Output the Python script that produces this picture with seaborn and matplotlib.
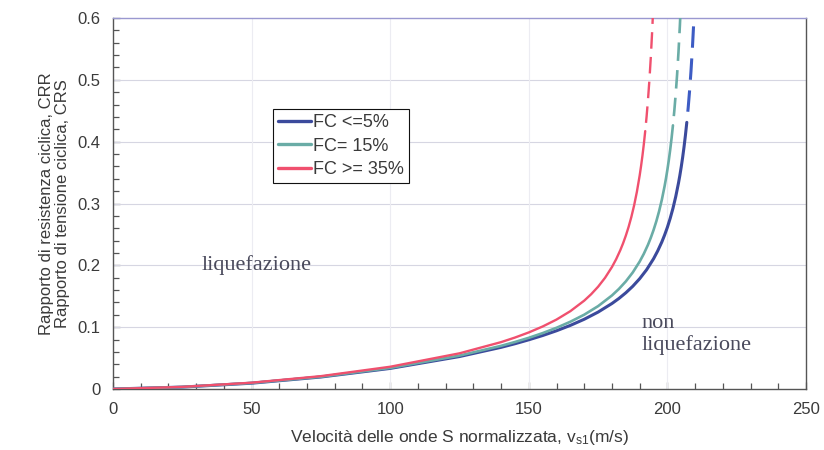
import numpy as np
import pandas as pd
import matplotlib
matplotlib.use("Agg")
import matplotlib.pyplot as plt
import seaborn as sns
from matplotlib.lines import Line2D
from matplotlib.ticker import MultipleLocator

# ---- data ----
labels = ["FC <=5%", "FC= 15%", "FC >= 35%"]

vs_fc5 = [0, 25, 50, 75, 100, 125, 140, 145, 150, 155, 160, 165, 170, 175, 180, 182.5, 185, 187.5, 190,
          192.5, 195, 196.5, 198, 199, 200, 201, 202, 203, 204, 204.5, 205, 205.5, 206, 206.5, 207]
crr_fc5 = [0, 0.0031, 0.0094, 0.0194, 0.0333, 0.0525, 0.0674, 0.0732, 0.0796, 0.0865, 0.0942, 0.1029,
           0.1128, 0.1244, 0.1383, 0.1464, 0.1556, 0.1661, 0.1784, 0.1929, 0.2106, 0.2233, 0.2379,
           0.2491, 0.2616, 0.2759, 0.2921, 0.3110, 0.3331, 0.3456, 0.3594, 0.3746, 0.3914, 0.4102, 0.4312]
vs_fc5_d = [207, 207.5, 208, 208.5, 209, 209.5, 209.8]
crr_fc5_d = [0.4312, 0.4550, 0.4822, 0.5134, 0.5497, 0.5926, 0.6223]

vs_fc15 = [0, 25, 50, 75, 100, 125, 140, 145, 150, 155, 160, 165, 170, 175, 180, 182.5, 185, 187.5, 190,
           191.5, 193, 194, 195, 196, 197, 198, 199, 199.5, 200, 200.5, 201, 201.5, 202]
crr_fc15 = [0, 0.0032, 0.0097, 0.0198, 0.0341, 0.0540, 0.0698, 0.0760, 0.0828, 0.0904, 0.0990, 0.1088,
            0.1202, 0.1340, 0.1513, 0.1618, 0.1740, 0.1885, 0.2061, 0.2187, 0.2333, 0.2445, 0.2570,
            0.2712, 0.2874, 0.3062, 0.3283, 0.3409, 0.3547, 0.3698, 0.3867, 0.4054, 0.4264]
vs_fc15_d = [202, 202.5, 203, 203.5, 204, 204.5, 204.8]
crr_fc15_d = [0.4264, 0.4502, 0.4773, 0.5085, 0.5449, 0.5878, 0.6174]

vs_fc35 = [0, 25, 50, 75, 100, 125, 140, 145, 150, 155, 160, 165, 170, 172.5, 175, 177.5, 180, 181.5,
           183, 184, 185, 186, 187, 188, 189, 190, 190.5, 191, 191.5, 192]
crr_fc35 = [0, 0.0034, 0.0102, 0.0208, 0.0360, 0.0577, 0.0758, 0.0832, 0.0915, 0.1011, 0.1123, 0.1259,
            0.1429, 0.1533, 0.1654, 0.1798, 0.1973, 0.2098, 0.2244, 0.2355, 0.2480, 0.2621, 0.2783,
            0.2971, 0.3191, 0.3454, 0.3606, 0.3774, 0.3961, 0.4171]
vs_fc35_d = [192, 192.5, 193, 193.5, 194, 194.5, 194.8]
crr_fc35_d = [0.4171, 0.4409, 0.4679, 0.4991, 0.5355, 0.5783, 0.6079]

x_ticks = [0, 50, 100, 150, 200, 250]
y_ticks = [0, 0.1, 0.2, 0.3, 0.4, 0.5, 0.6]
y_ticklabels = ["0", "0.1", "0.2", "0.3", "0.4", "0.5", "0.6"]

# ---- style ----
sns.set_theme(style="white")
plt.rcParams["font.family"] = ["Liberation Sans", "DejaVu Sans"]
plt.rcParams["mathtext.fontset"] = "custom"
plt.rcParams["mathtext.rm"] = "Liberation Sans"
plt.rcParams["mathtext.it"] = "Liberation Sans"

txt = "#3a3a3a"
c_blue, c_blue_d = "#3b4a9c", "#3d5cc4"
c_teal = "#6aaca6"
c_red = "#f0506e"

fig = plt.figure(figsize=(8.24, 4.5), dpi=100)
ax = fig.add_axes([113 / 824, 61 / 450, 693 / 824, 371 / 450])

series = [
    (vs_fc5, crr_fc5, vs_fc5_d, crr_fc5_d, c_blue, c_blue_d, 2.2),
    (vs_fc15, crr_fc15, vs_fc15_d, crr_fc15_d, c_teal, c_teal, 1.9),
    (vs_fc35, crr_fc35, vs_fc35_d, crr_fc35_d, c_red, c_red, 1.7),
]
for vs, crr, vsd, crrd, col, cold, lw in series:
    sns.lineplot(x=vs, y=crr, ax=ax, color=col, lw=lw, sort=False, estimator=None, zorder=3)
    sns.lineplot(x=vsd, y=crrd, ax=ax, color=cold, lw=lw, sort=False, estimator=None, zorder=3)
    ax.lines[-1].set_linestyle((7, (7, 3.5)))

ax.set_xlim(0, 250)
ax.set_ylim(0, 0.6)
ax.set_xticks(x_ticks)
ax.set_yticks(y_ticks)
ax.set_yticklabels(y_ticklabels)
ax.xaxis.set_minor_locator(MultipleLocator(10))
ax.yaxis.set_minor_locator(MultipleLocator(0.02))
ax.tick_params(axis="both", which="both", direction="in", colors="#555555",
               labelcolor=txt, labelsize=12, bottom=True, left=True, top=False, right=False)
ax.tick_params(axis="both", which="major", length=5, width=0.9, pad=9)
ax.tick_params(axis="both", which="minor", length=4, width=0.9)

ax.grid(False)
for yv in y_ticks[1:-1]:
    ax.axhline(yv, color="#d6d6e2", lw=0.8, zorder=1)
for xv in x_ticks[1:-1]:
    ax.axvline(xv, color="#ececf2", lw=0.8, zorder=1)

for s in ["left", "bottom", "right"]:
    ax.spines[s].set_color("#555555")
    ax.spines[s].set_linewidth(1.0)
ax.spines["top"].set_color("#9a98d0")
ax.spines["top"].set_linewidth(1.0)

ax.set_xlabel("Velocità delle onde S normalizzata, v$_{\\mathrm{s1}}$(m/s)", fontsize=12.5, color=txt)
ax.set_ylabel("Rapporto di resistenza ciclica, CRR\nRapporto di tensione ciclica, CRS",
              fontsize=12, color=txt, linespacing=1.05, multialignment="center")
ax.yaxis.set_label_coords(-0.0625, 0.5)
ax.xaxis.set_label_coords(0.5, -0.105)

serif = ["Liberation Serif", "DejaVu Serif"]
ax.text(32.1, 0.193, "liquefazione", family=serif, fontsize=16, color="#4a4a5c", va="baseline", ha="left")
ax.text(190.8, 0.0987, "non", family=serif, fontsize=16, color="#4a4a5c", va="baseline", ha="left")
ax.text(190.8, 0.063, "liquefazione", family=serif, fontsize=16, color="#4a4a5c", va="baseline", ha="left")

handles = [Line2D([0], [0], color=c, lw=2.4) for c in (c_blue, c_teal, c_red)]
leg = ax.legend(handles, labels, loc="upper left", bbox_to_anchor=(0.231, 0.755), borderaxespad=0,
                fontsize=13, frameon=True, fancybox=False, framealpha=1, edgecolor="#111111",
                handlelength=1.8, handletextpad=0.1, labelspacing=0.35, borderpad=0.3)
leg.get_frame().set_linewidth(0.8)
for t in leg.get_texts():
    t.set_color(txt)

fig.savefig("out.png", dpi=100)
